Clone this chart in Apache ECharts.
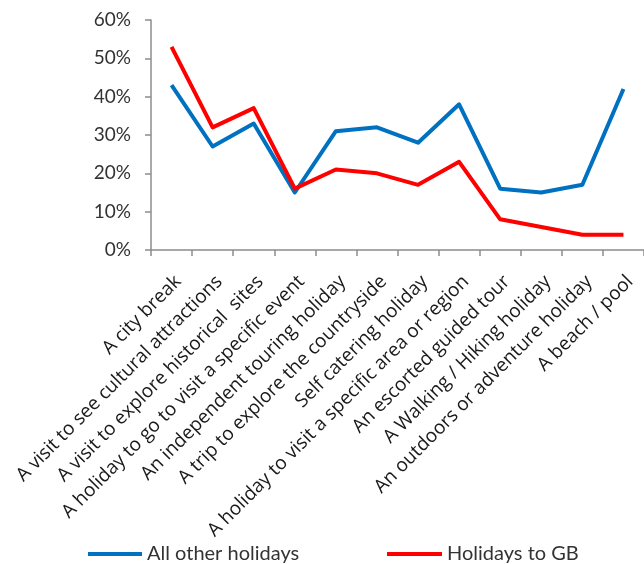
<!DOCTYPE html>
<html>
<head>
<meta charset="utf-8">
<script src="https://cdn.jsdelivr.net/npm/echarts@6/dist/echarts.min.js"></script>
<style>
html,body{margin:0;padding:0;background:#fff;}
#chart{width:644px;height:564px;}
</style>
</head>
<body>
<div id="chart"></div>
<script>
var categories = [
  "A city break",
  "A visit to see cultural attractions",
  "A visit to explore historical  sites",
  "A holiday to go to visit a specific event",
  "An independent touring holiday",
  "A trip to explore the countryside",
  "Self catering holiday",
  "A holiday to visit a specific area or region",
  "An escorted guided tour",
  "A Walking / Hiking holiday",
  "An outdoors or adventure holiday",
  "A beach / pool"
];
var allOtherHolidays = [43, 27, 33, 15, 31, 32, 28, 38, 16, 15, 17, 42];
var holidaysToGB = [53, 32, 37, 16, 21, 20, 17, 23, 8, 6, 4, 4];
var seriesNames = ["All other holidays", "Holidays to GB"];
var yTicks = {min: 0, max: 60, interval: 10};

var chart = echarts.init(document.getElementById('chart'), null, {renderer: 'canvas'});
var axisColor = '#8c8c8c';
var option = {
  animation: false,
  backgroundColor: '#ffffff',
  grid: {left: 151, top: 20, bottom: 314, width: 494, containLabel: false},
  legend: [
    {
      data: [seriesNames[0]], left: 83, top: 539, icon: 'rect',
      itemWidth: 54, itemHeight: 4, itemGap: 5,
      textStyle: {fontFamily: 'Lato', fontSize: 20, color: '#333333'}
    },
    {
      data: [seriesNames[1]], left: 382, top: 539, icon: 'rect',
      itemWidth: 55, itemHeight: 4, itemGap: 5,
      textStyle: {fontFamily: 'Lato', fontSize: 20, color: '#333333'}
    }
  ],
  xAxis: {
    type: 'category',
    data: categories,
    boundaryGap: true,
    axisLine: {lineStyle: {color: axisColor, width: 1.5}},
    axisTick: {show: true, length: 6, alignWithLabel: false, lineStyle: {color: axisColor, width: 1.5}},
    axisLabel: {
      interval: 0, rotate: 45, margin: 22, verticalAlign: 'top',
      fontFamily: 'Open Sans', fontSize: 19, color: '#1a1a1a'
    },
    splitLine: {show: false}
  },
  yAxis: {
    type: 'value',
    min: yTicks.min, max: yTicks.max, interval: yTicks.interval,
    axisLine: {show: true, lineStyle: {color: axisColor, width: 1.5}},
    axisTick: {show: true, length: 6, lineStyle: {color: axisColor, width: 1.5}},
    axisLabel: {formatter: '{value}%', margin: 20, fontFamily: 'Lato', fontSize: 19, color: '#333333'},
    splitLine: {show: false}
  },
  series: [
    {
      name: seriesNames[0], type: 'line', data: allOtherHolidays,
      symbol: 'none', color: '#0070C0',
      lineStyle: {width: 4, color: '#0070C0', join: 'round'}
    },
    {
      name: seriesNames[1], type: 'line', data: holidaysToGB,
      symbol: 'none', color: '#FF0000',
      lineStyle: {width: 4, color: '#FF0000', join: 'round'}
    }
  ]
};
chart.setOption(option);
</script>
</body>
</html>
